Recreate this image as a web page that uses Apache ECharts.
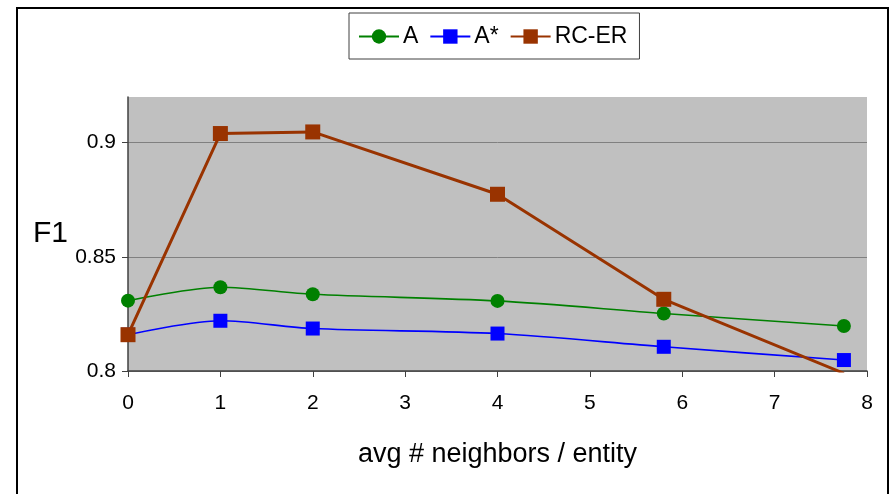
<!DOCTYPE html>
<html>
<head>
<meta charset="utf-8">
<script src="https://cdn.jsdelivr.net/npm/echarts@6/dist/echarts.min.js"></script>
<style>
html,body{margin:0;padding:0;background:#fff;}
#chart{width:892px;height:494px;}
</style>
</head>
<body>
<div id="chart"></div>
<script>
// x positions (avg # neighbors / entity)
const xValues = [0, 1, 2, 4, 5.8, 7.75];
// F1 values per series
const seriesA = [0.8308, 0.8367, 0.8336, 0.8307, 0.8252, 0.8197];
const seriesAStar = [0.8159, 0.8220, 0.8186, 0.8164, 0.8106, 0.8048];
const seriesRCER = [0.8159, 0.9040, 0.9047, 0.8774, 0.8314, 0.7990];
const seriesNames = ['A', 'A*', 'RC-ER'];
const yTickValues = [0.8, 0.85, 0.9];

const FONT = "'Liberation Sans', Arial, sans-serif";
function pairs(vals) { return xValues.map((x, i) => [x, vals[i]]); }

const chart = echarts.init(document.getElementById('chart'), null, {renderer: 'canvas'});
chart.setOption({
  animation: false,
  backgroundColor: '#ffffff',
  textStyle: {fontFamily: FONT},
  graphic: [{
    type: 'rect',
    shape: {x: 17, y: 8, width: 871, height: 520},
    style: {fill: 'none', stroke: '#000', lineWidth: 2},
    silent: true, z: -1
  }],
  legend: {
    data: seriesNames,
    left: 349, top: 13,
    orient: 'horizontal',
    borderColor: '#404040', borderWidth: 1,
    padding: [12, 12, 11, 9],
    itemGap: 11,
    itemWidth: 40, itemHeight: 18,
    textStyle: {fontFamily: FONT, fontSize: 23, color: '#000', padding: [0, 0, 0, -1]}
  },
  grid: {
    left: 128, right: 25, top: 97, bottom: 123,
    show: true, backgroundColor: '#C0C0C0', borderWidth: 0
  },
  xAxis: {
    type: 'value', min: 0, max: 8, interval: 1,
    name: 'avg # neighbors / entity',
    nameLocation: 'middle', nameGap: 70,
    nameTextStyle: {fontFamily: FONT, fontSize: 27, color: '#000'},
    axisLine: {show: true, lineStyle: {color: '#404040', width: 1.5}},
    axisTick: {show: true, inside: false, length: 6, lineStyle: {color: '#404040'}},
    axisLabel: {fontFamily: FONT, fontSize: 21, color: '#000', margin: 22},
    splitLine: {show: false}
  },
  yAxis: {
    type: 'value', min: 0.8, max: 0.92, interval: 0.05,
    name: 'F1',
    nameLocation: 'middle', nameRotate: 0, nameGap: 60,
    nameTextStyle: {fontFamily: FONT, fontSize: 30, color: '#000'},
    axisLine: {show: true, lineStyle: {color: '#404040', width: 1.5}},
    axisTick: {show: true, inside: false, length: 6, lineStyle: {color: '#404040'}, customValues: yTickValues},
    axisLabel: {fontFamily: FONT, fontSize: 21, color: '#000', margin: 12, customValues: yTickValues},
    splitLine: {show: true, lineStyle: {color: '#808080', width: 1}}
  },
  series: [
    {
      name: 'A', type: 'line', data: pairs(seriesA), smooth: 0.3,
      symbol: 'circle', symbolSize: 14,
      lineStyle: {color: '#008000', width: 1.6},
      itemStyle: {color: '#008000'}, clip: true, z: 3
    },
    {
      name: 'A*', type: 'line', data: pairs(seriesAStar), smooth: 0.3,
      symbol: 'rect', symbolSize: 14,
      lineStyle: {color: '#0000FF', width: 1.6},
      itemStyle: {color: '#0000FF'}, clip: true, z: 3
    },
    {
      name: 'RC-ER', type: 'line', data: pairs(seriesRCER), smooth: false,
      symbol: 'rect', symbolSize: 15,
      lineStyle: {color: '#993300', width: 3},
      itemStyle: {color: '#993300'}, clip: true, z: 4
    }
  ]
});
</script>
</body>
</html>
